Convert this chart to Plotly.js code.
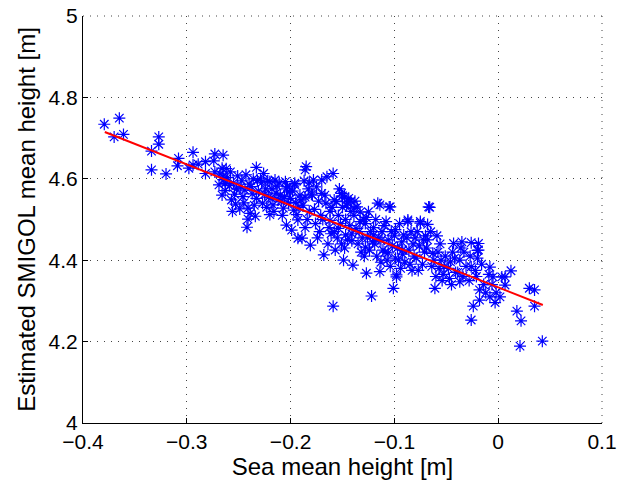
<!DOCTYPE html>
<html>
<head>
<meta charset="utf-8">
<script src="https://cdn.plot.ly/plotly-3.0.1.min.js"></script>
<style>html,body{margin:0;padding:0;background:#fff}#chart{width:624px;height:485px}</style>
</head>
<body>
<div id="chart"></div>
<script>
// Sea mean height [m] (x) and estimated SMIGOL mean height [m] (y)
const seaHeight = [
-0.3795,-0.365,-0.370,-0.361,-0.327,-0.327,-0.334,-0.334,-0.320,-0.308,-0.309,-0.298,-0.294,-0.294,-0.289,
-0.273,-0.265,-0.282,-0.274,-0.282,-0.273,-0.266,-0.265,-0.263,-0.186,
-0.268,-0.265,-0.262,-0.269,-0.263,-0.266,-0.261,
-0.258,-0.255,-0.252,-0.257,-0.251,-0.254,-0.259,-0.253,-0.256,
-0.249,-0.247,-0.244,-0.241,-0.241,-0.242,-0.246,-0.243,-0.248,-0.245,-0.240,
-0.238,-0.233,-0.233,-0.236,-0.231,-0.235,-0.239,-0.232,-0.237,-0.234,
-0.226,-0.228,-0.224,-0.221,-0.227,-0.223,-0.229,-0.222,-0.225,-0.220,
-0.220,-0.215,-0.217,-0.210,-0.218,-0.213,-0.212,-0.216,-0.211,-0.214,-0.219,
-0.205,-0.207,-0.201,-0.204,-0.209,-0.203,-0.206,-0.202,-0.208,-0.200,-0.204,
-0.196,-0.197,-0.199,-0.193,-0.193,-0.196,-0.191,-0.195,-0.198,-0.192,-0.194,-0.190,
-0.185,-0.189,-0.181,-0.187,-0.183,-0.186,-0.182,-0.188,-0.184,-0.180,-0.186,-0.182,
-0.178,-0.170,-0.170,-0.175,-0.173,-0.177,-0.171,-0.176,-0.172,-0.179,-0.174,
-0.165,-0.168,-0.166,-0.162,-0.169,-0.163,-0.167,-0.161,-0.164,-0.160,
-0.159,-0.157,-0.156,-0.151,-0.159,-0.153,-0.154,-0.152,-0.158,-0.155,-0.150,-0.151,
-0.149,-0.144,-0.148,-0.146,-0.142,-0.147,-0.143,-0.141,-0.145,-0.140,-0.148,-0.142,
-0.136,-0.139,-0.133,-0.137,-0.131,-0.135,-0.132,-0.138,-0.134,-0.130,
-0.127,-0.125,-0.122,-0.128,-0.123,-0.126,-0.121,-0.124,-0.129,-0.120,-0.127,
-0.116,-0.114,-0.114,-0.118,-0.112,-0.115,-0.119,-0.111,-0.117,-0.113,-0.110,
-0.104,-0.105,-0.101,-0.108,-0.103,-0.106,-0.102,-0.109,-0.107,-0.100,-0.104,
-0.098,-0.098,-0.091,-0.095,-0.093,-0.097,-0.092,-0.096,-0.094,-0.099,-0.090,
-0.087,-0.087,-0.084,-0.088,-0.082,-0.086,-0.081,-0.085,-0.083,-0.080,
-0.075,-0.075,-0.078,-0.072,-0.076,-0.071,-0.079,-0.073,-0.077,-0.070,
-0.067,-0.066,-0.068,-0.068,-0.063,-0.061,-0.065,-0.062,-0.069,-0.064,-0.060,
-0.057,-0.055,-0.058,-0.053,-0.056,-0.052,-0.054,-0.059,-0.051,
-0.043,-0.046,-0.044,-0.048,-0.041,-0.047,-0.045,-0.042,
-0.035,-0.037,-0.037,-0.033,-0.039,-0.031,-0.036,-0.034,
-0.026,-0.026,-0.024,-0.026,-0.028,-0.022,-0.027,-0.021,
-0.019,-0.020,-0.018,-0.018,-0.019,-0.014,-0.012,-0.016,-0.020,
-0.008,-0.008,-0.005,-0.003,-0.006,-0.009,-0.002,
0.0035,0.0066,0.0123,0.0066,0.0017,0.030,0.035,0.035,0.018,0.022,0.021,0.0425,
-0.158,-0.150,-0.145,-0.139,-0.133,-0.162,-0.154,-0.147,-0.141,-0.128,-0.120,-0.113,-0.106,-0.099,-0.092
];
const smigolHeight = [
4.734,4.749,4.703,4.709,4.703,4.685,4.668,4.622,4.612,4.650,4.632,4.626,4.665,4.634,4.636,
4.661,4.658,4.642,4.644,4.613,4.617,4.626,4.605,4.589,4.622,
4.612,4.598,4.625,4.585,4.571,4.560,4.603,
4.617,4.590,4.575,4.548,4.607,4.562,4.583,4.538,4.520,
4.526,4.595,4.572,4.528,4.501,4.481,4.556,4.610,4.580,4.541,4.587,
4.581,4.628,4.552,4.600,4.570,4.535,4.515,4.596,4.563,4.508,
4.613,4.590,4.575,4.555,4.540,4.530,4.600,4.595,4.562,4.512,
4.593,4.597,4.536,4.560,4.575,4.582,4.548,4.520,4.590,4.565,4.553,
4.593,4.528,4.568,4.486,4.545,4.580,4.556,4.540,4.510,4.552,4.575,
4.589,4.523,4.474,4.499,4.454,4.585,4.560,4.542,4.570,4.530,4.512,4.548,
4.630,4.454,4.437,4.595,4.575,4.555,4.520,4.535,4.500,4.562,4.480,4.590,
4.597,4.597,4.564,4.580,4.545,4.525,4.510,4.490,4.470,4.560,4.455,
4.605,4.413,4.540,4.520,4.500,4.480,4.560,4.465,4.440,4.530,
4.613,4.425,4.544,4.564,4.287,4.575,4.510,4.490,4.470,4.455,4.530,4.440,
4.400,4.552,4.555,4.535,4.520,4.500,4.485,4.465,4.450,4.388,4.430,4.545,
4.531,4.510,4.495,4.478,4.455,4.440,4.420,4.545,4.470,4.500,
4.368,4.519,4.312,4.490,4.470,4.455,4.445,4.425,4.410,4.480,4.505,
4.540,4.536,4.372,4.500,4.470,4.455,4.440,4.425,4.410,4.395,4.485,
4.531,4.531,4.331,4.495,4.470,4.450,4.435,4.420,4.400,4.460,4.385,
4.364,4.359,4.462,4.490,4.445,4.430,4.415,4.400,4.380,4.475,4.395,
4.499,4.495,4.470,4.455,4.440,4.425,4.410,4.390,4.375,4.455,
4.495,4.491,4.470,4.450,4.435,4.420,4.405,4.390,4.375,4.460,
4.531,4.530,4.488,4.450,4.417,4.331,4.470,4.400,4.430,4.385,4.360,
4.380,4.400,4.420,4.365,4.440,4.385,4.350,4.460,4.410,
4.441,4.396,4.420,4.380,4.370,4.355,4.340,4.405,
4.445,4.400,4.347,4.420,4.370,4.385,4.430,4.360,
4.443,4.384,4.287,4.253,4.350,4.375,4.410,4.360,
4.441,4.405,4.327,4.302,4.425,4.340,4.320,4.390,4.424,
4.310,4.383,4.359,4.296,4.340,4.365,4.320,
4.359,4.359,4.374,4.339,4.310,4.331,4.327,4.287,4.275,4.251,4.189,4.201,
4.548,4.558,4.540,4.528,4.518,4.498,4.478,4.462,4.448,4.432,4.462,4.448,
4.418,4.405,4.425
];
// Least-squares fit line end points
const fitX = [-0.379, 0.043];
const fitY = [4.715, 4.290];
const xTicks = [-0.4, -0.3, -0.2, -0.1, 0, 0.1];
const yTicks = [4, 4.2, 4.4, 4.6, 4.8, 5];

const font = 'Liberation Sans, Arial, Helvetica, sans-serif';
const gridDash = '1px,6px';
const gridColor = '#444';
const data = [
  {x: seaHeight, y: smigolHeight, type: 'scatter', mode: 'markers',
   marker: {symbol: 'asterisk-open', size: 10, color: '#0000ff', line: {color: '#0000ff', width: 1.2}},
   hoverinfo: 'x+y', showlegend: false},
  {x: fitX, y: fitY, type: 'scatter', mode: 'lines',
   line: {color: '#ff0000', width: 2}, showlegend: false}
];
const axisCommon = {
  showline: true, linecolor: '#000', linewidth: 1, mirror: false,
  ticks: 'inside', ticklen: 5, tickcolor: '#000', tickwidth: 1,
  showgrid: true, gridcolor: gridColor, griddash: gridDash, gridwidth: 1,
  zeroline: false, tickfont: {family: font, size: 21, color: '#000'}
};
const layout = {
  width: 624, height: 485,
  margin: {l: 83, r: 22, t: 16, b: 62},
  paper_bgcolor: '#fff', plot_bgcolor: '#fff',
  xaxis: Object.assign({}, axisCommon, {
    range: [-0.4, 0.1], tickvals: xTicks, ticktext: xTicks.map(v => v < 0 ? '\u2212' + Math.abs(v) : String(v)),
    title: {text: 'Sea mean height [m]', font: {family: font, size: 24, color: '#000'}, standoff: 4}
  }),
  yaxis: Object.assign({}, axisCommon, {
    range: [4, 5], tickvals: yTicks, ticktext: yTicks.map(v => String(v)),
    title: {text: 'Estimated SMIGOL mean height [m]', font: {family: font, size: 24, color: '#000'}, standoff: 6}
  }),
  shapes: [
    {type: 'line', xref: 'paper', yref: 'paper', x0: 0, x1: 1, y0: 1, y1: 1,
     line: {color: gridColor, width: 1, dash: gridDash}, layer: 'below'},
    {type: 'line', xref: 'paper', yref: 'paper', x0: 1, x1: 1, y0: 0, y1: 1,
     line: {color: gridColor, width: 1, dash: gridDash}, layer: 'below'}
  ]
};
Plotly.newPlot('chart', data, layout, {displayModeBar: false, staticPlot: true});
</script>
</body>
</html>
